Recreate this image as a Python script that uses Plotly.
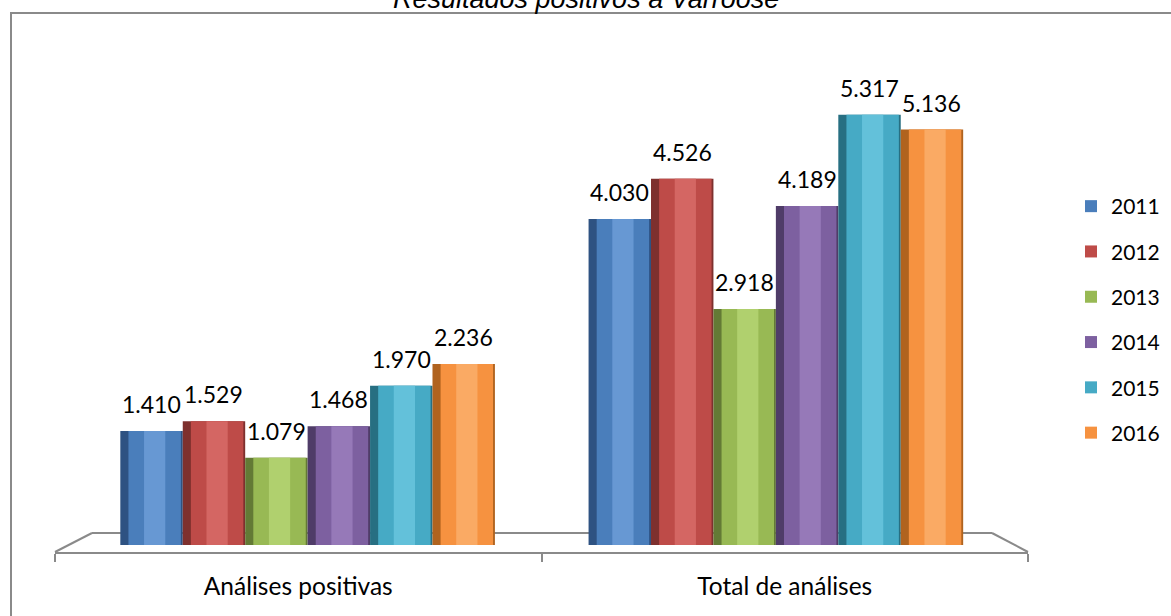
import plotly.graph_objects as go

# ---- data ----
categories = ["Análises positivas", "Total de análises"]
years = ["2011", "2012", "2013", "2014", "2015", "2016"]
values_2011 = [1410, 4030]
values_2012 = [1529, 4526]
values_2013 = [1079, 2918]
values_2014 = [1468, 4189]
values_2015 = [1970, 5317]
values_2016 = [2236, 5136]
series = [values_2011, values_2012, values_2013, values_2014, values_2015, values_2016]
title_text = "Resultados positivos à Varroose"

# ---- style ----
base_colors = ["#4A7EBB", "#BE4B48", "#98B954", "#7D60A0", "#46AAC5", "#F69240"]
dark_colors = ["#2E5282", "#7E302E", "#637A35", "#4F3C68", "#276F82", "#B0631F"]
light_colors = ["#6798D3", "#D46663", "#B0D06E", "#9679B8", "#63C1DA", "#FAAA64"]

W, H = 1171, 616
def px(x):
    return x / W
def py(y):
    return 1 - y / H

FONT = "Lato"
GRID = "#8A8A8A"

group_width = 0.8
n = len(years)
bw = group_width / n

fig = go.Figure()
for i, (yr, vals) in enumerate(zip(years, series)):
    off = -group_width / 2 + i * bw
    fig.add_trace(go.Bar(x=categories, y=vals, offset=off, width=bw,
                         marker=dict(color=dark_colors[i], line=dict(width=0)),
                         legendgroup=yr, showlegend=False, hoverinfo="skip"))
    fig.add_trace(go.Bar(x=categories, y=vals, offset=off + 0.13 * bw, width=0.84 * bw,
                         marker=dict(color=base_colors[i], line=dict(width=0)),
                         name=yr, legendgroup=yr, showlegend=True))
    fig.add_trace(go.Bar(x=categories, y=vals, offset=off + 0.38 * bw, width=0.34 * bw,
                         marker=dict(color=light_colors[i], line=dict(width=0)),
                         legendgroup=yr, showlegend=False, hoverinfo="skip"))

# invisible helper trace so that the category (floor) axis is drawn
fig.add_trace(go.Scatter(x=[0, 1], y=[0, 0], xaxis="x2", yaxis="y2", mode="none",
                         showlegend=False, hoverinfo="skip"))

annotations = []
for i, vals in enumerate(series):
    for c, v in enumerate(vals):
        annotations.append(dict(
            x=c - group_width / 2 + (i + 0.5) * bw, y=v, xref="x", yref="y",
            text=f"{v:,}".replace(",", "."), showarrow=False, yanchor="middle",
            yshift=27, font=dict(family=FONT, size=23, color="#000000")))

annotations.append(dict(
    x=0.5, y=py(-1), xref="paper", yref="paper", xanchor="center", yanchor="middle",
    text=f"<i>{title_text}</i>", showarrow=False,
    font=dict(family="Liberation Sans", size=27, color="#000000")))

shapes = [
    # outer frame
    dict(type="rect", xref="paper", yref="paper", x0=px(11), y0=py(13), x1=px(1190), y1=py(640),
         line=dict(color=GRID, width=2), fillcolor="rgba(0,0,0,0)", layer="below"),
    # floor back line and sides
    dict(type="line", xref="paper", yref="paper", x0=px(92), y0=py(533), x1=px(992), y1=py(533),
         line=dict(color=GRID, width=2), layer="below"),
    dict(type="line", xref="paper", yref="paper", x0=px(55), y0=py(552), x1=px(92), y1=py(533),
         line=dict(color=GRID, width=2), layer="below"),
    dict(type="line", xref="paper", yref="paper", x0=px(992), y0=py(533), x1=px(1028), y1=py(552),
         line=dict(color=GRID, width=2), layer="below"),
]

fig.update_layout(
    width=W, height=H,
    margin=dict(l=0, r=0, t=0, b=0),
    paper_bgcolor="white", plot_bgcolor="rgba(0,0,0,0)",
    barmode="overlay",
    showlegend=True,
    legend=dict(x=px(1071), y=py(186), xanchor="left", yanchor="top",
                font=dict(family=FONT, size=21, color="#000000"),
                tracegroupgap=15, bgcolor="rgba(0,0,0,0)"),
    xaxis=dict(domain=[px(73.5), px(1010)], type="category", visible=False,
               range=[-0.5, 1.5]),
    yaxis=dict(domain=[py(545), py(59.6)], range=[0, 6000], visible=False),
    xaxis2=dict(domain=[px(55), px(1028)], type="linear", range=[-0.5, 1.5],
                anchor="y2", side="bottom", showline=True, linecolor=GRID,
                linewidth=2, showgrid=False, zeroline=False, ticks="",
                tickmode="array", tickvals=[0, 1], ticktext=categories,
                ticklabelstandoff=12,
                tickfont=dict(family=FONT, size=24.5, color="#000000"),
                minor=dict(tickmode="array", tickvals=[-0.5, 0.5, 1.5], ticks="outside",
                           ticklen=8, tickwidth=2, tickcolor=GRID, showgrid=False)),
    yaxis2=dict(domain=[py(552), py(500)], anchor="x2", range=[0, 1], visible=False),
    annotations=annotations,
    shapes=shapes,
)

fig.write_html("out.html")
